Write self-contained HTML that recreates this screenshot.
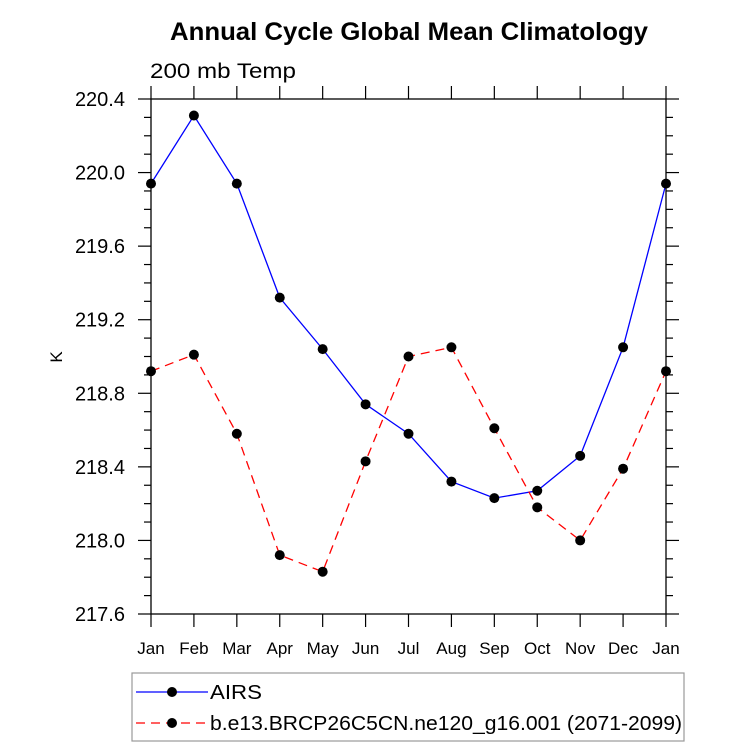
<!DOCTYPE html>
<html><head><meta charset="utf-8"><style>
html,body{margin:0;padding:0;background:#fff}
svg{display:block;font-family:"Liberation Sans",Arial,sans-serif}
</style></head><body>
<svg id="chart" width="733" height="748" viewBox="0 0 733 748">
<text x="409" y="40" text-anchor="middle" font-size="25" font-weight="bold" textLength="478" lengthAdjust="spacingAndGlyphs">Annual Cycle Global Mean Climatology</text>
<text x="150" y="78" font-size="21" textLength="146" lengthAdjust="spacingAndGlyphs">200 mb Temp</text>
<text x="62" y="357" font-size="17" text-anchor="middle" transform="rotate(-90 62 357)">K</text>
<g id="axes"></g>
<g id="series"></g>
<g>
<rect x="132" y="673" width="552" height="68" fill="none" stroke="#999" stroke-width="1.2"/>
<g>
<line x1="136" y1="692" x2="208" y2="692" stroke="#0000ff" stroke-width="1.2"/>
<circle cx="172" cy="692" r="5" fill="#000"/>
<text x="210" y="699" font-size="20" textLength="52" lengthAdjust="spacingAndGlyphs">AIRS</text>
</g>
<g>
<line x1="136" y1="723" x2="208" y2="723" stroke="#ff0000" stroke-width="1.2" stroke-dasharray="9,6"/>
<circle cx="172" cy="723" r="5" fill="#000"/>
<text x="210" y="730" font-size="20" textLength="472" lengthAdjust="spacingAndGlyphs">b.e13.BRCP26C5CN.ne120_g16.001 (2071-2099)</text>
</g>
</g>
</svg>
<script>
const months = ["Jan","Feb","Mar","Apr","May","Jun","Jul","Aug","Sep","Oct","Nov","Dec","Jan"];
const airs = [219.94,220.31,219.94,219.32,219.04,218.74,218.58,218.32,218.23,218.27,218.46,219.05,219.94];
const model = [218.92,219.01,218.58,217.92,217.83,218.43,219.00,219.05,218.61,218.18,218.00,218.39,218.92];
const yTicks = ["217.6","218.0","218.4","218.8","219.2","219.6","220.0","220.4"];

const NS="http://www.w3.org/2000/svg";
const L=151,R=666,T=99,B=614,YMIN=217.6,YMAX=220.4;
const xs=i=>L+(R-L)*i/(months.length-1);
const ys=v=>B-(v-YMIN)/(YMAX-YMIN)*(B-T);
function mk(tag,attrs,parent){const e=document.createElementNS(NS,tag);for(const k in attrs)e.setAttribute(k,attrs[k]);parent.appendChild(e);return e;}
const ax=document.getElementById('axes');
const frame=mk('rect',{x:L,y:T,width:R-L,height:B-T,fill:'none',stroke:'#000','stroke-width':1.3},ax);


months.forEach((m,i)=>{
  const x=xs(i);
  mk('line',{x1:x,y1:B,x2:x,y2:B+13,stroke:'#000','stroke-width':1.2},ax);
  mk('line',{x1:x,y1:T,x2:x,y2:T-13,stroke:'#000','stroke-width':1.2},ax);
  const t=mk('text',{x:x,y:B+40,'font-size':17,'text-anchor':'middle'},ax);
  t.textContent=m;
  
  
});
for(let v=YMIN;v<=YMAX+1e-6;v+=0.1){
  const y=ys(v);
  const major=Math.abs(Math.round(v*10)%4)===Math.abs(Math.round(YMIN*10)%4);
  const len=major?13:7;
  mk('line',{x1:L,y1:y,x2:L-len,y2:y,stroke:'#000','stroke-width':1.2},ax);
  mk('line',{x1:R,y1:y,x2:R+len,y2:y,stroke:'#000','stroke-width':1.2},ax);
}
yTicks.forEach(s=>{
  const t=mk('text',{x:125,y:ys(parseFloat(s))+7,'font-size':20,'text-anchor':'end'},ax);
  t.textContent=s;
  
  
});
const sg=document.getElementById('series');
function drawSeries(vals,color,dash,name){
  const g=mk('g',{},sg);
  
  
  const pts=vals.map((v,i)=>xs(i)+','+ys(v)).join(' ');
  const a={points:pts,fill:'none',stroke:color,'stroke-width':1.3};
  if(dash)a['stroke-dasharray']=dash;
  mk('polyline',a,g);
  vals.forEach((v,i)=>{
    const c=mk('circle',{cx:xs(i),cy:ys(v),r:5,fill:'#000'},g);
    
    
  });
}
drawSeries(airs,'#0000ff',null,'airs-series');
drawSeries(model,'#ff0000','9,6','model-series');
</script>
</body></html>
